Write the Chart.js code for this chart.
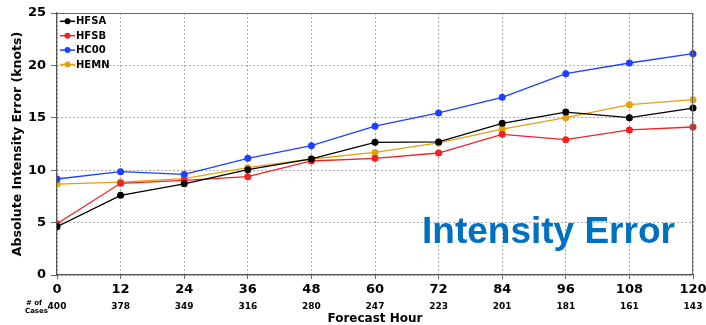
<!DOCTYPE html>
<html>
<head>
<meta charset="utf-8">
<script src="https://cdn.jsdelivr.net/npm/chart.js@4"></script>
<style>
  html, body { margin: 0; padding: 0; background: #fff; }
  #wrap { width: 706px; height: 325px; }
</style>
</head>
<body>
<div id="wrap"><canvas id="chart" width="706" height="325"></canvas></div>
<script>
const hours = ["0", "12", "24", "36", "48", "60", "72", "84", "96", "108", "120"];
const cases = [400, 378, 349, 316, 280, 247, 223, 201, 181, 161, 143];

const hfsa = [4.6, 7.6, 8.7, 10.05, 11.07, 12.66, 12.7, 14.47, 15.55, 15.01, 15.93];
const hfsb = [4.9, 8.75, 9.03, 9.38, 10.88, 11.13, 11.64, 13.42, 12.91, 13.84, 14.12];
const hc00 = [9.16, 9.86, 9.6, 11.13, 12.34, 14.2, 15.46, 16.95, 19.21, 20.23, 21.12];
const hemn = [8.68, 8.87, 9.19, 10.24, 11.07, 11.7, 12.6, 13.93, 15.01, 16.25, 16.73];

const seriesNames = ["HFSA", "HFSB", "HC00", "HEMN"];
const seriesColors = ["#000000", "#f02222", "#1f3fff", "#e3a10c"];
const seriesData = [hfsa, hfsb, hc00, hemn];

const FONT = "'DejaVu Sans', sans-serif";

// extra drawing: frame, cases row, legend, big label
const extras = {
  id: "extras",
  afterDatasetsDraw(chart) {
    const ctx = chart.ctx;
    const a = chart.chartArea;
    const x = chart.scales.x;
    ctx.save();

    // top/right frame
    ctx.strokeStyle = "#666";
    ctx.lineWidth = 1;
    ctx.beginPath();
    ctx.moveTo(a.left, a.top + 0.5);
    ctx.lineTo(a.right - 0.5, a.top + 0.5);
    ctx.lineTo(a.right - 0.5, a.bottom);
    ctx.stroke();

    // number of cases
    ctx.fillStyle = "#000";
    ctx.font = "bold 9px " + FONT;
    ctx.textAlign = "center";
    ctx.textBaseline = "middle";
    cases.forEach((c, i) => {
      ctx.fillText(String(c), x.getPixelForValue(i), 307);
    });
    ctx.font = "bold 7px " + FONT;
    ctx.textAlign = "left";
    ctx.fillText("# of", 26, 303);
    ctx.fillText("Cases", 25, 311);

    // legend
    ctx.font = "bold 10px " + FONT;
    seriesNames.forEach((name, i) => {
      const y = 21.3 + i * 14.4;
      ctx.strokeStyle = seriesColors[i];
      ctx.lineWidth = 1.5;
      ctx.beginPath();
      ctx.moveTo(60, y);
      ctx.lineTo(75, y);
      ctx.stroke();
      ctx.fillStyle = seriesColors[i];
      ctx.beginPath();
      ctx.arc(67.5, y, 3, 0, Math.PI * 2);
      ctx.fill();
      ctx.fillStyle = "#000";
      ctx.textAlign = "left";
      ctx.fillText(name, 76, y + 0.5);
    });

    // big label
    ctx.fillStyle = "#0070c0";
    ctx.font = "bold 37px 'Liberation Sans', Arial, sans-serif";
    ctx.textAlign = "left";
    ctx.textBaseline = "alphabetic";
    ctx.fillText("Intensity Error", 422, 243);

    ctx.restore();
  }
};

new Chart(document.getElementById("chart"), {
  type: "line",
  data: {
    labels: hours,
    datasets: seriesNames.map((name, i) => ({
      label: name,
      data: seriesData[i],
      borderColor: seriesColors[i],
      backgroundColor: seriesColors[i],
      borderWidth: 1.3,
      pointRadius: 3.5,
      pointHoverRadius: 3.5,
      pointBorderWidth: 0,
      tension: 0,
      clip: { left: 0, top: false, right: false, bottom: false }
    }))
  },
  options: {
    responsive: false,
    animation: false,
    events: [],
    layout: { padding: { left: 0, right: 13, top: 13, bottom: 0 } },
    plugins: {
      legend: { display: false },
      tooltip: { enabled: false }
    },
    scales: {
      x: {
        offset: false,
        afterFit: s => { s.height = 50; s.paddingRight = 0; s.paddingLeft = 0; },
        grid: {
          color: "#a8a8a8",
          tickLength: 4,
          tickColor: "#666",
          tickBorderDash: []
        },
        border: { display: true, color: "#555", width: 1.2, dash: [2, 2] },
        ticks: {
          color: "#000",
          font: { family: FONT, size: 13, weight: "bold" },
          padding: 3,
          maxRotation: 0,
          autoSkip: false
        },
        title: {
          display: true,
          text: "Forecast Hour",
          color: "#000",
          font: { family: FONT, size: 12, weight: "bold", lineHeight: 1 },
          padding: { top: 0, bottom: 0 }
        }
      },
      y: {
        min: 0,
        max: 25,
        afterFit: s => { s.width = 57; s.paddingTop = 0; s.paddingBottom = 0; },
        grid: {
          color: "#a8a8a8",
          tickLength: 6,
          tickColor: "#666",
          tickBorderDash: []
        },
        border: { display: true, color: "#555", width: 1.2, dash: [2, 2] },
        ticks: {
          stepSize: 5,
          color: "#000",
          font: { family: FONT, size: 13, weight: "bold" },
          padding: 5
        },
        title: {
          display: true,
          text: "Absolute Intensity Error (knots)",
          color: "#000",
          font: { family: FONT, size: 12.5, weight: "bold", lineHeight: 1 },
          padding: { top: 11, bottom: 0 }
        }
      }
    }
  },
  plugins: [extras]
});
</script>
</body>
</html>
